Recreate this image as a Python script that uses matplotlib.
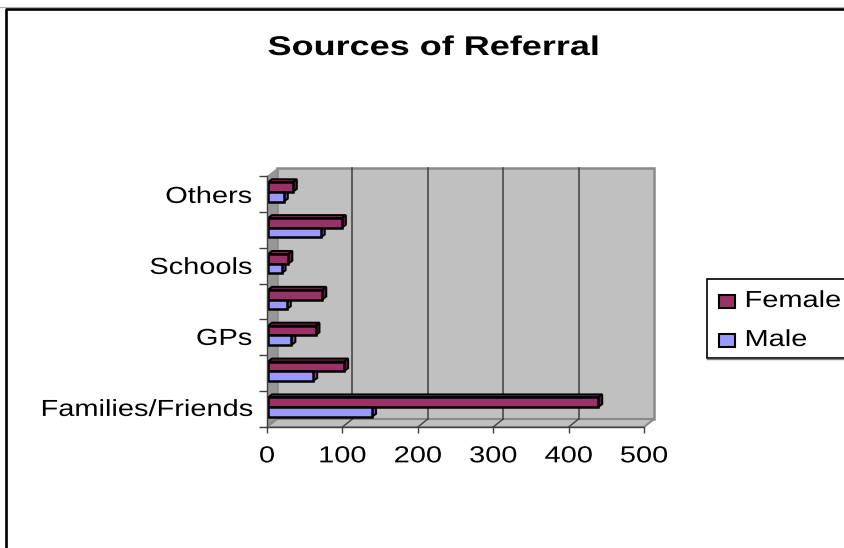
import numpy as np
import matplotlib
matplotlib.use("Agg")
import matplotlib.pyplot as plt
from matplotlib.patches import Polygon, Rectangle
from matplotlib.patheffects import AbstractPathEffect
from matplotlib.transforms import Affine2D, ScaledTranslation

categories = ["Families/Friends", "", "GPs", "", "Schools", "", "Others"]
female = [438, 101, 63, 72, 27, 98, 33]
male = [138, 60, 31, 25, 18, 70, 21]
xticks = [0, 100, 200, 300, 400, 500]

W, H = 845, 548
plt.rcParams["font.family"] = ["Liberation Sans", "DejaVu Sans"]


class Stretch(AbstractPathEffect):
    # the reference text is wider than normal Arial, so widen it about one edge
    def __init__(self, sx, anchor="center"):
        super().__init__()
        self.sx = sx
        self.anchor = anchor

    def draw_path(self, renderer, gc, tpath, affine, rgbFace=None):
        e = tpath.transformed(affine).get_extents()
        cx = {"left": e.x0, "center": (e.x0 + e.x1) / 2, "right": e.x1}[self.anchor]
        a = affine + Affine2D().translate(-cx, 0).scale(self.sx, 1).translate(cx, 0)
        renderer.draw_path(gc, tpath, a, rgbFace)


fig = plt.figure(figsize=(W / 100, H / 100), dpi=100)
ax = fig.add_axes([267 / W, 1 - 427 / H, 377 / W, 251 / H])
ax.set_xlim(0, 500)
ax.set_ylim(0, 7)
ax.patch.set_visible(False)

# chart frame, runs off the right and bottom of the picture
fig.add_artist(plt.Line2D([0, 1], [1 - 7 / H, 1 - 7 / H], color="#b0b0b0", lw=0.8))
fig.add_artist(plt.Line2D([6.5 / W, 6.5 / W, 1], [0, 1 - 9 / H, 1 - 9 / H], color="black", lw=1.9))


def off(dx, dy):
    # shift in pixels, used for the fake 3d depth
    return ax.transData + ScaledTranslation(dx / 100, -dy / 100, fig.dpi_scale_trans)


DX, DY = 10, -8
n = len(categories)

# back wall
ax.add_patch(Rectangle((0, 0), 500, n, transform=off(DX, DY), fc="#c0c0c0", ec="#8a8a8a", lw=1.8, zorder=1, clip_on=False))


def side_patch(x0, y0, x1, y1, color, z=1.5, ec="none", lw=0):
    # quad between a front edge and the same edge pushed back
    a = off(0, 0).transform([(x0, y0), (x1, y1)])
    b = a + np.array([DX, -DY])
    pts = np.vstack([a, b[::-1]])
    ax.add_patch(Polygon(pts, transform=None, fc=color, ec=ec, lw=lw, zorder=z, clip_on=False))


side_patch(0, 0, 0, n, "#969696")
side_patch(0, 0, 500, 0, "#c0c0c0", z=1.6, ec="#8a8a8a", lw=1.5)

# gridlines on the back wall with the slanted bit across the floor
for t in xticks[1:-1]:
    ax.plot([t, t], [0, n], color="#404040", lw=1.1, transform=off(DX, DY), zorder=2, clip_on=False)
    a = off(0, 0).transform((t, 0))
    ax.plot([a[0], a[0] + DX], [a[1], a[1] - DY], color="#404040", lw=1, transform=None, zorder=2, clip_on=False)

# bars, each with a top and side face
BH = 0.27
BDX, BDY = 4, -3
SX, SY = 1, -2


def bar3d(v, y, side, top):
    t = off(SX, SY)
    a = t.transform([(0, y + BH), (v, y + BH), (v, y)])
    d = np.array([BDX, -BDY])
    ax.add_patch(Polygon([a[0], a[1], a[1] + d, a[0] + d], transform=None, fc=top, ec="black", lw=1.4, zorder=3, clip_on=False))
    ax.add_patch(Polygon([a[1], a[2], a[2] + d, a[1] + d], transform=None, fc=side, ec="black", lw=1.4, zorder=3, clip_on=False))


ypos = np.arange(n) + 0.5
for i in range(n):
    bar3d(male[i], ypos[i] - BH, "#5a5a99", "#7a7acc")
    bar3d(female[i], ypos[i], "#5c1f3d", "#7a2952")
ax.barh(ypos, female, BH, align="edge", color="#993366", edgecolor="black", lw=1.8, zorder=4, transform=off(SX, SY), clip_on=False)
ax.barh(ypos - BH, male, BH, align="edge", color="#9999ff", edgecolor="black", lw=1.8, zorder=4, transform=off(SX, SY), clip_on=False)

for s in ["top", "right"]:
    ax.spines[s].set_visible(False)
for s in ["left", "bottom"]:
    ax.spines[s].set_color("#404040")
    ax.spines[s].set_linewidth(1)
    ax.spines[s].set_zorder(5)
ax.set_xticks(xticks)
ax.set_yticks(np.arange(n + 1))
ax.set_yticklabels([""] * (n + 1))
# labels sit slightly tighter than the category spacing in the reference
ax.set_yticks(ypos + 0.06 - 0.01 * np.arange(n), minor=True)
ax.set_yticklabels(categories, minor=True, va="center_baseline")
ax.tick_params(axis="y", which="minor", length=0, pad=10.8, labelsize=16.7)
ax.tick_params(axis="y", which="major", length=6, width=1, color="#404040")
ax.tick_params(axis="x", length=4.5, width=1, color="#404040", pad=8, labelsize=16.7)
for lab in ax.get_yticklabels(minor=True):
    lab.set_path_effects([Stretch(1.25, "right")])
for lab in ax.get_xticklabels():
    lab.set_path_effects([Stretch(1.25, "center")])

title = fig.text(433.5 / W, 1 - 55 / H, "Sources of Referral", ha="center", va="baseline", fontsize=19.5, fontweight="bold")
title.set_path_effects([Stretch(1.33, "center")])

# legend drawn by hand so the box can run off the picture edge
leg = [("Female", "#993366", 307, 308), ("Male", "#9999ff", 346, 347)]
fig.add_artist(Rectangle((707 / W, 1 - 358 / H), 145 / W, 79 / H, transform=fig.transFigure, fc="white", ec="black", lw=1.2))
fig.add_artist(plt.Line2D([707 / W, 1], [1 - 358.5 / H, 1 - 358.5 / H], color="#808080", lw=1))
for name, col, y, sy in leg:
    fig.add_artist(Rectangle((719 / W, 1 - sy / H), 16 / W, 13.5 / H, transform=fig.transFigure, fc=col, ec="black", lw=1.5))
    t = fig.text(745 / W, 1 - y / H, name, va="baseline", fontsize=16.7)
    t.set_path_effects([Stretch(1.25, "left")])

fig.savefig("out.png", dpi=100)
